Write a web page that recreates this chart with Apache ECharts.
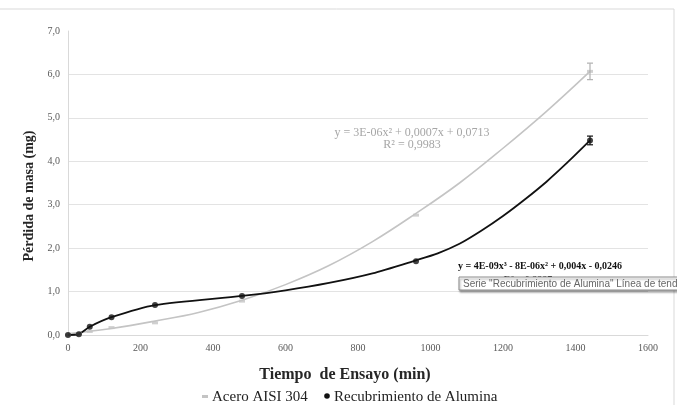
<!DOCTYPE html>
<html>
<head>
<meta charset="utf-8">
<script src="https://cdn.jsdelivr.net/npm/echarts@6/dist/echarts.min.js"></script>
<style>
html,body{margin:0;padding:0;background:#fff;}
#chart{width:677px;height:405px;}
</style>
</head>
<body>
<div id="chart"></div>
<script>
// ---- data ----
const timeMin = [0, 30, 60, 120, 240, 480, 960, 1440];
const aceroLoss = [0, 0.03, 0.08, 0.17, 0.28, 0.78, 2.76, 6.07];
const aluminaLoss = [0, 0.02, 0.19, 0.41, 0.69, 0.90, 1.70, 4.48];
const aceroErr = [0, 0, 0, 0, 0, 0, 0, 0.19];
const aluminaErr = [0, 0, 0, 0, 0, 0, 0, 0.10];

const aceroTrendX = [0, 120, 240, 360, 480, 600, 720, 840, 960, 1080, 1200, 1320, 1440];
const aceroTrendY = [0.03, 0.15, 0.32, 0.52, 0.80, 1.16, 1.60, 2.15, 2.80, 3.50, 4.30, 5.15, 6.07];
const aluminaCurveX = [0, 30, 60, 120, 240, 480, 600, 720, 840, 960, 1020, 1080, 1140, 1200, 1260, 1320, 1380, 1440];
const aluminaCurveY = [0, 0.02, 0.19, 0.41, 0.69, 0.90, 1.03, 1.20, 1.42, 1.72, 1.88, 2.10, 2.40, 2.74, 3.12, 3.53, 3.99, 4.48];

const xTicks = [0, 200, 400, 600, 800, 1000, 1200, 1400, 1600];
const yTicks = [0, 1, 2, 3, 4, 5, 6, 7];

const seriesNames = ['Acero AISI 304', 'Recubrimiento de Alumina'];
const xTitle = 'Tiempo  de Ensayo (min)';
const yTitle = 'Pérdida de masa (mg)';
const aceroEq = 'y = 3E-06x² + 0,0007x + 0,0713';
const aceroR2 = 'R² = 0,9983';
const aluminaEq = 'y = 4E-09x³ - 8E-06x² + 0,004x - 0,0246';
const aluminaR2 = 'R² = 0,9987';
const tipText = 'Serie "Recubrimiento de Alumina" Línea de tendencia 1';

// ---- build ----
const zip = (xs, ys) => xs.map((x, i) => [x, ys[i]]);
const errData = (ys, es) => timeMin.map((x, i) => [x, ys[i] - es[i], ys[i] + es[i]]).filter((d, i) => es[i] > 0);

const SERIF = '"Liberation Serif", "DejaVu Serif", serif';
const GRAY = '#c4c4c4';
const BLACK = '#111111';

function errRender(color) {
  return function (params, api) {
    const x = api.value(0), lo = api.value(1), hi = api.value(2);
    const a = api.coord([x, hi]), b = api.coord([x, lo]);
    const w = 3;
    const st = { stroke: color, lineWidth: 1.2 };
    return {
      type: 'group',
      children: [
        { type: 'line', shape: { x1: a[0], y1: a[1], x2: b[0], y2: b[1] }, style: st },
        { type: 'line', shape: { x1: a[0] - w, y1: a[1], x2: a[0] + w, y2: a[1] }, style: st },
        { type: 'line', shape: { x1: b[0] - w, y1: b[1], x2: b[0] + w, y2: b[1] }, style: st }
      ]
    };
  };
}

const chart = echarts.init(document.getElementById('chart'), null, { renderer: 'canvas' });

const option = {
  backgroundColor: '#ffffff',
  animation: false,
  textStyle: { fontFamily: 'Liberation Serif' },
  grid: { left: 68, right: 29, top: 31, bottom: 70 },
  xAxis: {
    type: 'value',
    min: xTicks[0],
    max: xTicks[xTicks.length - 1],
    interval: xTicks[1] - xTicks[0],
    axisLine: { show: true, lineStyle: { color: '#d9d9d9', width: 1 } },
    axisTick: { show: false },
    splitLine: { show: false },
    axisLabel: { margin: 8, fontFamily: 'Liberation Serif', fontSize: 10, color: '#595959', formatter: v => String(v) }
  },
  yAxis: {
    type: 'value',
    min: yTicks[0],
    max: yTicks[yTicks.length - 1],
    interval: yTicks[1] - yTicks[0],
    axisLine: { show: true, lineStyle: { color: '#d9d9d9', width: 1 } },
    axisTick: { show: false },
    splitLine: { show: true, showMaxLine: false, lineStyle: { color: '#e3e3e3', width: 1 } },
    axisLabel: {
      margin: 8, fontFamily: 'Liberation Serif', fontSize: 10, color: '#595959',
      formatter: v => v.toFixed(1).replace('.', ',')
    }
  },
  series: [
    {
      name: 'aceroTrend', type: 'line', data: zip(aceroTrendX, aceroTrendY),
      smooth: 0.4, showSymbol: false, silent: true,
      lineStyle: { color: GRAY, width: 1.6 }, z: 2
    },
    {
      name: 'aluminaCurve', type: 'line', data: zip(aluminaCurveX, aluminaCurveY),
      smooth: 0.25, showSymbol: false, silent: true,
      lineStyle: { color: BLACK, width: 1.8 }, z: 3
    },
    {
      name: seriesNames[0], type: 'scatter', data: zip(timeMin, aceroLoss),
      symbol: 'rect', symbolSize: [6, 3],
      itemStyle: { color: GRAY }, z: 4
    },
    {
      name: seriesNames[1], type: 'scatter', data: zip(timeMin, aluminaLoss),
      symbol: 'circle', symbolSize: 6,
      itemStyle: { color: BLACK }, z: 5
    },
    {
      name: 'aceroErr', type: 'custom', data: errData(aceroLoss, aceroErr),
      encode: { x: 0, y: [1, 2] }, renderItem: errRender('#b0b0b0'), z: 6, silent: true
    },
    {
      name: 'aluminaErr', type: 'custom', data: errData(aluminaLoss, aluminaErr),
      encode: { x: 0, y: [1, 2] }, renderItem: errRender(BLACK), z: 6, silent: true
    }
  ],
  graphic: [
    { type: 'rect', shape: { x: -1, y: 9, width: 675, height: 400 }, style: { fill: 'none', stroke: '#d9d9d9', lineWidth: 1 }, z: 0, silent: true },
    { type: 'text', x: 29, y: 196, rotation: Math.PI / 2,
      style: { text: yTitle, font: 'bold 14px ' + SERIF, fill: '#262626', align: 'center', verticalAlign: 'middle' } },
    { type: 'text', x: 345, y: 375,
      style: { text: xTitle, font: 'bold 16px ' + SERIF, fill: '#262626', align: 'center', verticalAlign: 'middle' } },
    // legend
    { type: 'rect', shape: { x: 202, y: 395, width: 6, height: 3 }, style: { fill: GRAY } },
    { type: 'text', x: 212, y: 397,
      style: { text: seriesNames[0], font: '15px ' + SERIF, fill: '#222', align: 'left', verticalAlign: 'middle' } },
    { type: 'circle', shape: { cx: 327, cy: 396, r: 2.8 }, style: { fill: BLACK } },
    { type: 'text', x: 334, y: 397,
      style: { text: seriesNames[1], font: '15px ' + SERIF, fill: '#222', align: 'left', verticalAlign: 'middle' } },
    // trendline labels
    { type: 'text', x: 412, y: 133,
      style: { text: aceroEq, font: '12px ' + SERIF, fill: '#a6a6a6', align: 'center', verticalAlign: 'middle' } },
    { type: 'text', x: 412, y: 145,
      style: { text: aceroR2, font: '12px ' + SERIF, fill: '#a6a6a6', align: 'center', verticalAlign: 'middle' } },
    { type: 'text', x: 458, y: 266,
      style: { text: aluminaEq, font: 'bold 10px ' + SERIF, fill: '#111', align: 'left', verticalAlign: 'middle' } },
    { type: 'text', x: 528, y: 280,
      style: { text: aluminaR2, font: 'bold 10px ' + SERIF, fill: '#111', align: 'center', verticalAlign: 'middle' }, z: 10 },
    { type: 'rect', shape: { x: 459, y: 277, width: 225, height: 13 },
      style: { fill: '#ffffff', stroke: '#8c8c8c', lineWidth: 1, shadowColor: 'rgba(0,0,0,0.35)', shadowBlur: 2, shadowOffsetX: 1, shadowOffsetY: 2 }, z: 20 },
    { type: 'text', x: 463, y: 284,
      style: { text: tipText, font: '10px "Liberation Sans", sans-serif', fill: '#666', align: 'left', verticalAlign: 'middle' }, z: 21 }
  ]
};

chart.setOption(option);
</script>
</body>
</html>
